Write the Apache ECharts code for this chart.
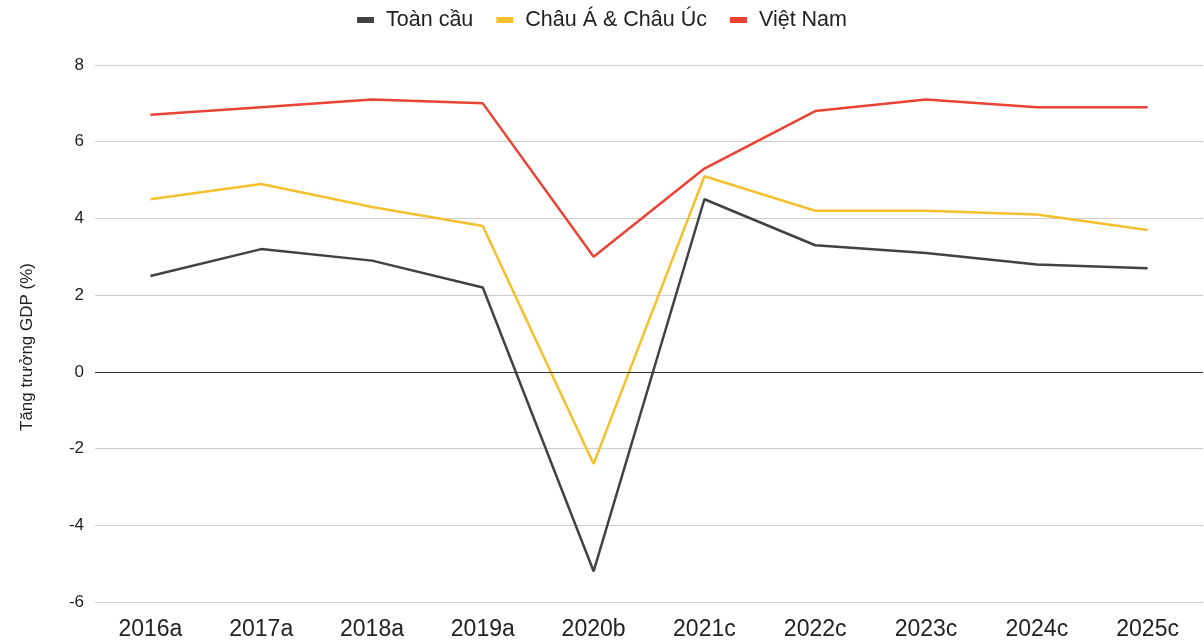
<!DOCTYPE html>
<html><head><meta charset="utf-8">
<script src="https://cdn.jsdelivr.net/npm/echarts@6/dist/echarts.min.js"></script>
<style>html,body{margin:0;padding:0;background:#fff}#c{width:1204px;height:641px}</style>
</head><body><div id="c"></div>
<script>
const categories = ['2016a','2017a','2018a','2019a','2020b','2021c','2022c','2023c','2024c','2025c'];
const toanCau = [2.5, 3.2, 2.9, 2.2, -5.2, 4.5, 3.3, 3.1, 2.8, 2.7];
const chauA = [4.5, 4.9, 4.3, 3.8, -2.4, 5.1, 4.2, 4.2, 4.1, 3.7];
const vietNam = [6.7, 6.9, 7.1, 7.0, 3.0, 5.3, 6.8, 7.1, 6.9, 6.9];
const seriesNames = ['Toàn cầu', 'Châu Á & Châu Úc', 'Việt Nam'];
const colors = ['#424242', '#f4c02d', '#ea4335'];
const yAxisTitle = 'Tăng trưởng GDP (%)';

const FONT = 'Liberation Sans, Arial, sans-serif';
const chart = echarts.init(document.getElementById('c'));
const mk = (name, data, color) => ({
  name, type: 'line', data, symbol: 'none', smooth: false,
  lineStyle: { width: 2.5, color }, itemStyle: { color }
});
chart.setOption({
  animation: false,
  textStyle: { fontFamily: FONT },
  legend: {
    top: 4, left: 'center', itemWidth: 17, itemHeight: 6, itemGap: 23,
    icon: 'rect',
    textStyle: { fontSize: 21.5, color: '#222', fontFamily: FONT, padding: [0, 0, 0, 7] },
    data: seriesNames
  },
  grid: { left: 95, right: 1, top: 65, bottom: 36 },
  graphic: [{
    type: 'text', x: 27, y: 347, rotation: Math.PI / 2,
    style: { text: yAxisTitle, fontSize: 17, fill: '#222', fontFamily: FONT,
      align: 'center', verticalAlign: 'middle' }
  }],
  xAxis: {
    type: 'category', data: categories, boundaryGap: true,
    axisLine: { show: false }, axisTick: { show: false },
    axisLabel: { fontSize: 23, color: '#222', margin: 16 }
  },
  yAxis: {
    type: 'value', min: -6, max: 8, interval: 2,
    axisLabel: { fontSize: 17, color: '#222', margin: 11 },
    axisLine: { show: false }, axisTick: { show: false },
    splitLine: { lineStyle: { color: '#cccccc', width: 1 } }
  },
  series: [
    mk(seriesNames[0], toanCau, colors[0]),
    mk(seriesNames[1], chauA, colors[1]),
    mk(seriesNames[2], vietNam, colors[2]),
    { type: 'line', data: [], markLine: { silent: true, symbol: 'none', label: { show: false },
      lineStyle: { color: '#333', width: 1, type: 'solid' }, data: [{ yAxis: 0 }] } }
  ]
});
</script></body></html>
